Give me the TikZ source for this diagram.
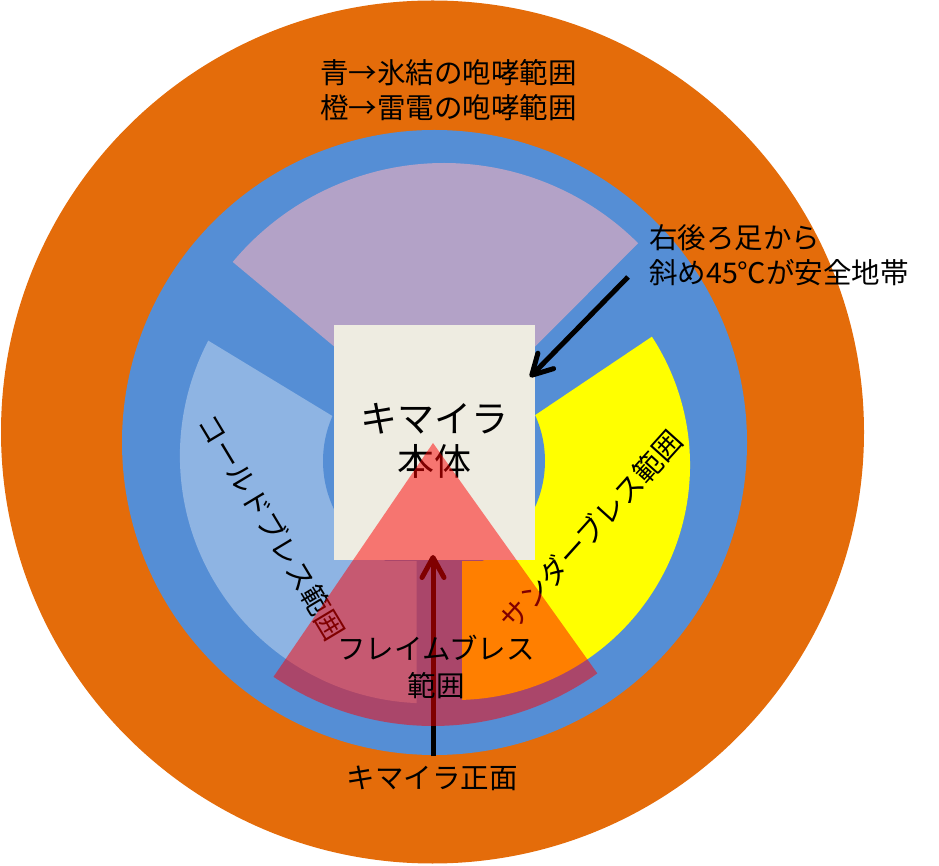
\documentclass[tikz,border=0pt]{standalone}
\usepackage{fontspec}
\setmainfont{Noto Sans CJK JP}
\usetikzlibrary{arrows.meta}
\definecolor{ringorange}{HTML}{E46C0A}
\definecolor{ringblue}{HTML}{558ED5}
\definecolor{fanpurple}{HTML}{B3A2C7}
\definecolor{fanlightblue}{HTML}{8EB4E3}
\definecolor{fanyellow}{HTML}{FFFF00}
\definecolor{flamered}{HTML}{FF0000}
\definecolor{boxgray}{HTML}{EEECE1}
\begin{document}
\begin{tikzpicture}[x=1pt,y=1pt,
  lbl/.style={font=\fontsize{28.5pt}{35pt}\selectfont, inner sep=0pt, align=center, text=black},
  bigarrow/.style={line width=5pt, -{Straight Barb[length=20pt,width=22pt,round]}}]
\useasboundingbox (0,0) rectangle (939,865);
% rings
\fill[ringorange] (432.5,433) circle[radius=431.5pt];
\fill[ringblue] (434.5,422.5) circle[radius=312.5pt];
% fans
\fill[fanpurple] (444,427) -- ++(45.1:275pt) arc[start angle=45.1,end angle=140.2,radius=275pt] -- cycle;
\fill[fanlightblue] (416.7,161.9) arc[start angle=267.5,end angle=152.3,radius=247.6pt] -- (416.7,397.8) -- cycle;
\fill[fanyellow] (462,165.1) arc[start angle=-88.3,end angle=33.1,radius=235pt] -- (462,400.7) -- cycle;
% hole (only above the bottom of the body box)
\begin{scope}
  \clip (200,304.3) rectangle (700,600);
  \fill[ringblue] (434,404) circle[radius=111pt];
\end{scope}
% body box
\node[fill=boxgray, minimum width=201pt, minimum height=235.7pt, inner sep=0pt, anchor=south west] (body) at (334,304.3) {};
\node[font=\fontsize{37pt}{43pt}\selectfont, inner sep=0pt, align=center] (bodylabel) at (434.5,424.5) {キマイラ\\本体};
% breath labels
\node[lbl, rotate=-59] (coldlabel) at (272,338) {コールドブレス範囲};
\node[lbl, rotate=48] (thunderlabel) at (591,335) {サンダーブレス範囲};
% front arrow
\coordinate (frontbase) at (433,109);
\coordinate (fronttip) at (433,310);
\draw[bigarrow] (frontbase) -- (fronttip);
% flame sector
\fill[flamered, opacity=0.5] (433,422) -- ++(235.7:283pt) arc[start angle=235.7,end angle=305.5,radius=283pt] -- cycle;
\node[lbl, font=\fontsize{28.5pt}{37pt}\selectfont] (flamelabel) at (436,198.5) {フレイムブレス\\範囲};
% legend
\node[lbl] (legend) at (448.5,774.5) {青→氷結の咆哮範囲\\橙→雷電の咆哮範囲};
% safe zone note
\node[lbl, align=left, anchor=west] (safelabel) at (649,609.5) {右後ろ足から\\斜め45℃が安全地帯};
\coordinate (safetail) at (628,588);
\coordinate (safetip) at (530,488);
\draw[bigarrow] (safetail) -- (safetip);
% front label
\node[lbl] (frontlabel) at (432,87) {キマイラ正面};
\end{tikzpicture}
\end{document}
